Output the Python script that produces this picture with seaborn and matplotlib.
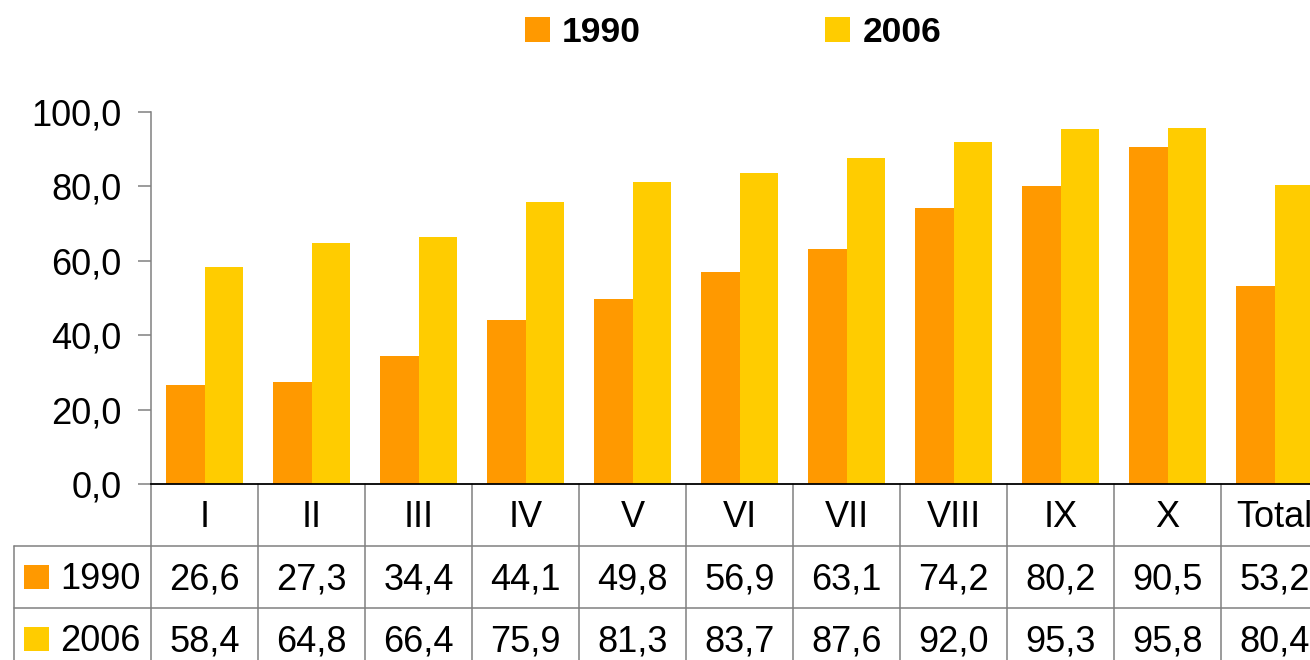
import matplotlib
matplotlib.use("Agg")
import matplotlib.pyplot as plt
import matplotlib.transforms as mtransforms
from matplotlib.patches import Rectangle
from matplotlib.ticker import FuncFormatter
import pandas as pd
import seaborn as sns

categories = ["I", "II", "III", "IV", "V", "VI", "VII", "VIII", "IX", "X", "Total"]
years = ["1990", "2006"]
values_1990 = [26.6, 27.3, 34.4, 44.1, 49.8, 56.9, 63.1, 74.2, 80.2, 90.5, 53.2]
values_2006 = [58.4, 64.8, 66.4, 75.9, 81.3, 83.7, 87.6, 92.0, 95.3, 95.8, 80.4]
colors = {"1990": "#FF9900", "2006": "#FFCC00"}

df = pd.DataFrame({
    "category": categories * 2,
    "year": [years[0]] * len(categories) + [years[1]] * len(categories),
    "value": values_1990 + values_2006,
})


def fmt(v):
    return f"{v:.1f}".replace(".", ",")


sns.set_style("white")
plt.rcParams["font.family"] = ["Liberation Sans", "DejaVu Sans"]
plt.rcParams["text.color"] = "black"
plt.rcParams["ytick.labelcolor"] = "black"

fig = plt.figure(figsize=(13.1, 6.6), dpi=100)
ax = fig.add_axes([151 / 1310, 176 / 660, 1177 / 1310, 372 / 660])
sns.barplot(data=df, x="category", y="value", hue="year", hue_order=years,
            palette=colors, width=0.72, gap=0, saturation=1, linewidth=0, ax=ax)

handles, labels = ax.get_legend_handles_labels()
ax.get_legend().remove()
fig.legend(handles, labels, loc="center", bbox_to_anchor=(0.5595, 0.951), ncol=2,
           frameon=False, prop={"size": 25.5, "weight": "bold"}, labelcolor="black",
           handlelength=0.7, handleheight=0.7, handletextpad=0.35, columnspacing=5.2)

ax.set_xlim(-0.5, len(categories) - 0.5)
ax.set_ylim(0, 100)
ax.set_yticks([0, 20, 40, 60, 80, 100])
ax.yaxis.set_major_formatter(FuncFormatter(lambda v, p: fmt(v)))
ax.set_xlabel("")
ax.set_ylabel("")
ax.tick_params(axis="x", bottom=False, labelbottom=False)
ax.tick_params(axis="y", left=True, length=9.4, width=1.1, pad=12, labelsize=26,
               color="#808080", labelcolor="black")
for s in ["top", "right"]:
    ax.spines[s].set_visible(False)
ax.spines["left"].set_color("#808080")
ax.spines["left"].set_linewidth(1.1)
ax.spines["bottom"].set_color("black")
ax.spines["bottom"].set_linewidth(1.3)

# data table under the chart
trans = mtransforms.blended_transform_factory(ax.transData, ax.transAxes)
row_h = 1 / 6
left_x = -1.78
txt_dy = -0.008
line_kw = dict(color="#808080", lw=1.1, transform=trans, clip_on=False)
for k in range(len(categories) + 1):
    ax.plot([k - 0.5, k - 0.5], [0, -0.6], **line_kw)
ax.plot([left_x, left_x], [-row_h, -0.6], **line_kw)
for r in [1, 2]:
    ax.plot([left_x, len(categories)], [-r * row_h, -r * row_h], **line_kw)

for i, c in enumerate(categories):
    ax.text(i, -row_h / 2 + txt_dy, c, ha="center", va="center", fontsize=26,
            transform=trans)

for r, (year, vals) in enumerate(zip(years, [values_1990, values_2006])):
    yc = -row_h * (1.5 + r)
    for i, v in enumerate(vals):
        ax.text(i, yc + txt_dy, fmt(v), ha="center", va="center", fontsize=26,
                transform=trans)
    ax.add_patch(Rectangle((-1.687, yc - 0.0336), 0.234, 0.0672, facecolor=colors[year],
                           edgecolor="none", transform=trans, clip_on=False))
    ax.text(-1.35, yc + txt_dy, year, ha="left", va="center", fontsize=26,
            transform=trans)

fig.savefig("out.png", dpi=100)
